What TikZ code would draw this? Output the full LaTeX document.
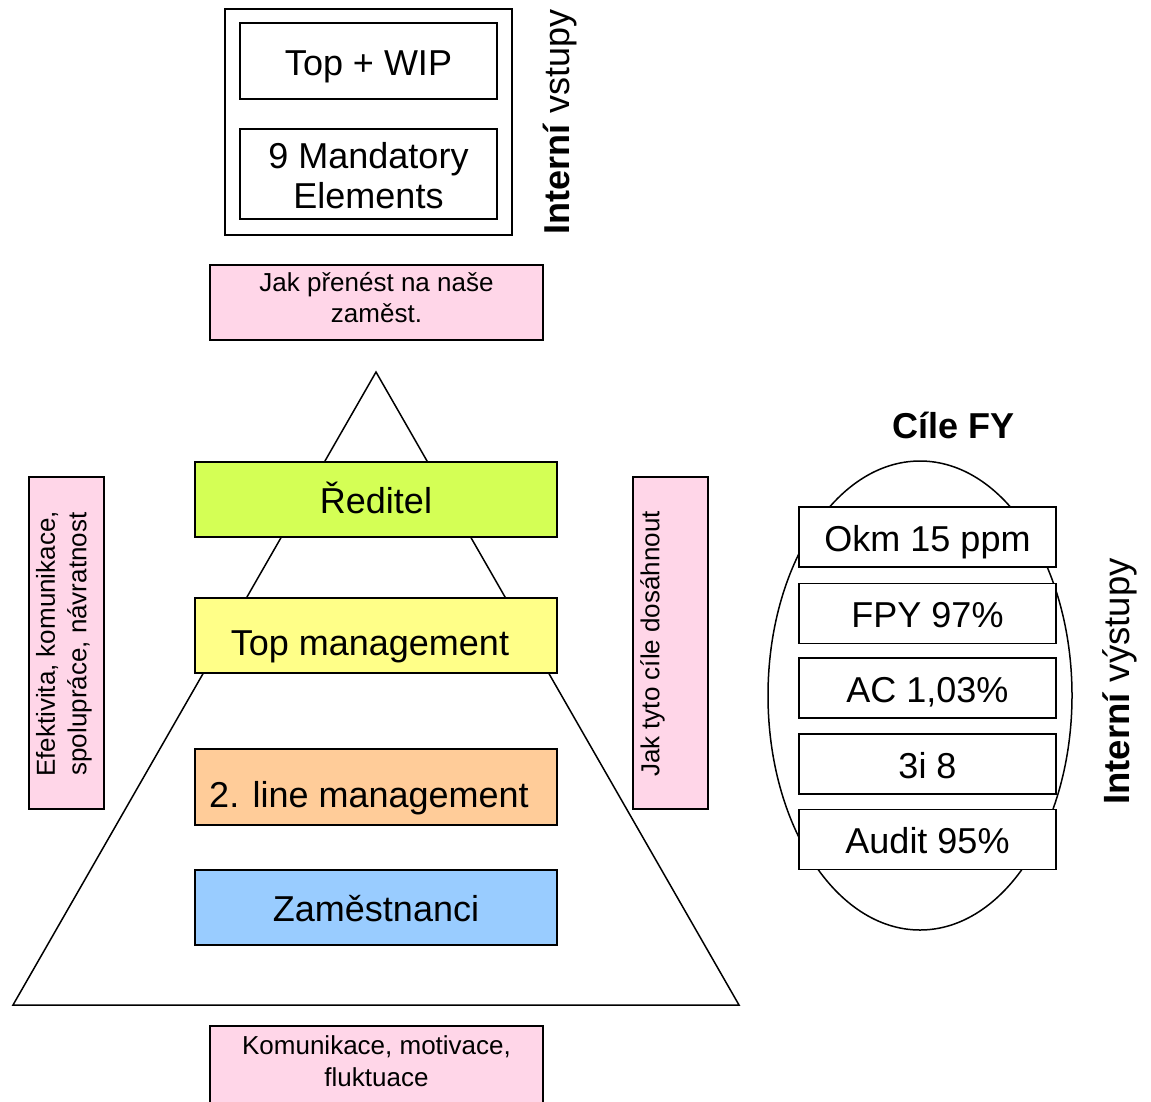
\documentclass[tikz,border=0pt]{standalone}
\usepackage{fontspec}
\setmainfont{Liberation Sans}
\usetikzlibrary{shapes.geometric}
\definecolor{pinkbox}{HTML}{FFD6E8}
\definecolor{greenbox}{HTML}{D4FF55}
\definecolor{yellowbox}{HTML}{FFFF88}
\definecolor{orangebox}{HTML}{FFCC99}
\definecolor{bluebox}{HTML}{99CCFF}
\begin{document}
\begin{tikzpicture}[x=1pt,y=-1pt,
  bigtext/.style={font=\fontsize{36}{40}\selectfont},
  oneline/.style={text height=28pt,text depth=0pt},
  lowline/.style={text height=40pt,text depth=0pt},
  smalltext/.style={font=\fontsize{26}{31.5}\selectfont},
  frame/.style={draw=black,line width=1.5pt,rectangle,inner sep=0pt,align=center},
  levelbox/.style={frame,minimum width=362pt,minimum height=75pt,bigtext},
  goalbox/.style={frame,fill=white,minimum width=257pt,minimum height=60pt,bigtext,oneline},
  notebox/.style={frame,fill=pinkbox},
  plain/.style={inner sep=0pt,align=center}
]
\useasboundingbox (0,0) rectangle (1151,1101);
\clip (0,0) rectangle (1151,1101);

% top input block
\node[frame,minimum width=287pt,minimum height=226pt] (inputs) at (368.5,122) {};
\node[frame,minimum width=257pt,minimum height=76pt,bigtext,oneline] (topwip) at (368.5,61) {Top + WIP};
\node[frame,minimum width=257pt,minimum height=90pt] (mandatory) at (368.5,174) {};
\node[plain,bigtext] (mandatorytext) at (368.5,176) {9 Mandatory\\Elements};
\node[plain,rotate=90,bigtext] (invstupy) at (560,122) {\textbf{Interní} vstupy};

\node[notebox,minimum width=333pt,minimum height=75pt] (prenest) at (376.5,302.5) {};
\node[plain,smalltext] (prenesttext) at (376.5,297.5) {Jak přenést na naše\\zaměst.};

% pyramid
\draw[line width=1.5pt] (376,372) -- (739,1005) -- (13,1005) -- cycle;
\node[levelbox,fill=greenbox,oneline] (reditel) at (376,499.5) {Ředitel};
\node[levelbox,fill=yellowbox,lowline] (topman) at (376,635.5) {\hspace*{-12pt}Top management};
\node[levelbox,fill=orangebox,minimum height=76pt,lowline] (lineman) at (376,787) {\hspace*{-14pt}2. line management};
\node[levelbox,fill=bluebox,oneline] (zam) at (376,907.5) {Zaměstnanci};

% side notes
\node[notebox,minimum width=75pt,minimum height=332pt] (leftnote) at (66.5,643) {};
\node[plain,rotate=90,smalltext] (leftnotetext) at (64,644) {Efektivita, komunikace,\\spolupráce, návratnost};
\node[notebox,minimum width=75pt,minimum height=332pt] (rightnote) at (670.5,643) {};
\node[plain,rotate=90,smalltext] (rightnotetext) at (652.5,644) {Jak tyto cíle dosáhnout};

\node[notebox,minimum width=333pt,minimum height=90pt] (bottomnote) at (376.5,1071) {};
\node[plain,smalltext] (bottomnotetext) at (376.5,1061) {Komunikace, motivace,\\fluktuace};

% goals
\node[plain,bigtext] (cile) at (953.5,425) {\textbf{Cíle FY}};
\node[draw=black,line width=1.5pt,ellipse,minimum width=304pt,minimum height=469pt,inner sep=0pt] (goalring) at (920,695.5) {};
\node[goalbox] (okm) at (927.5,537) {Okm 15 ppm};
\node[goalbox] (fpy) at (927.5,613.5) {FPY 97\%};
\node[goalbox] (ac) at (927.5,688) {AC 1,03\%};
\node[goalbox] (tri) at (927.5,764) {3i 8};
\node[goalbox] (audit) at (927.5,839.5) {Audit 95\%};
\node[plain,rotate=90,font=\fontsize{36.5}{37}\selectfont] (invystupy) at (1120,681.5) {\textbf{Interní} výstupy};
\end{tikzpicture}
\end{document}
